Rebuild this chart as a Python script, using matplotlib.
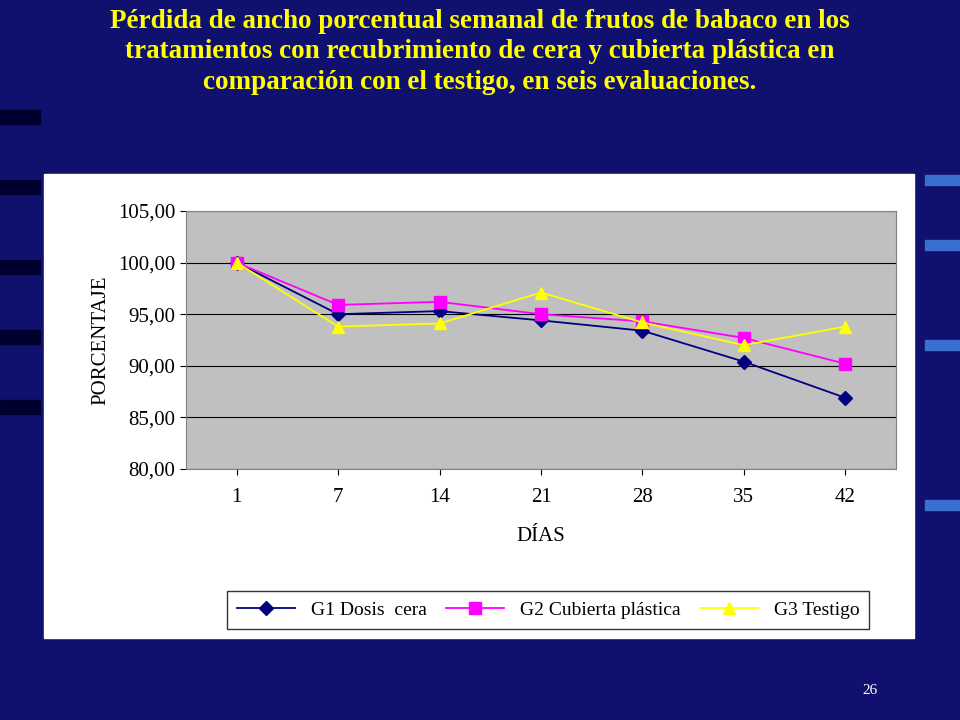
import matplotlib.pyplot as plt
from matplotlib.patches import Rectangle

dias = ["1", "7", "14", "21", "28", "35", "42"]
g1_cera = [100.0, 95.0, 95.3, 94.4, 93.4, 90.4, 86.9]
g2_plastica = [100.0, 95.9, 96.2, 95.0, 94.3, 92.7, 90.2]
g3_testigo = [100.0, 93.8, 94.1, 97.1, 94.2, 92.0, 93.8]
yticks = [80, 85, 90, 95, 100, 105]

W, H = 960, 720
fig = plt.figure(figsize=(9.6, 7.2), dpi=100)
fig.patch.set_facecolor("#10106e")

# dark stripes on the slide background
bg = fig.add_axes([0, 0, 1, 1])
bg.set_xlim(0, W)
bg.set_ylim(H, 0)
bg.axis("off")
bg.add_patch(Rectangle((0, 0), W, H, color="#10106e", zorder=0))
for y0 in [110, 180, 260, 330, 400]:
    bg.add_patch(Rectangle((0, y0), 40, 14, color="#000030", zorder=1))
for y0 in [175, 240, 340, 500]:
    bg.add_patch(Rectangle((925, y0), 35, 10, color="#3a6fd0", zorder=1))

# white chart panel
bg.add_patch(Rectangle((44, 174), 870, 464, color="white", zorder=2))

fig.text(0.5, 0.988,
         "Pérdida de ancho porcentual semanal de frutos de babaco en los\n"
         "tratamientos con recubrimiento de cera y cubierta plástica en\n"
         "comparación con el testigo, en seis evaluaciones.",
         ha="center", va="top", color="#ffff00", fontsize=19.5,
         fontweight="bold", family="Liberation Serif", linespacing=1.3)
fig.text(870 / W, 1 - 690 / H, "26", color="white", fontsize=11,
         ha="center", va="center", family="Liberation Serif")

ax = fig.add_axes([186 / W, 1 - 469 / H, 710 / W, 258 / H])
ax.set_facecolor("#c0c0c0")
x = range(len(dias))
ax.plot(x, g1_cera, color="#000080", marker="D", markersize=7,
        lw=1.3, label="G1 Dosis  cera", zorder=3)
ax.plot(x, g2_plastica, color="#ff00ff", marker="s", markersize=8,
        lw=1.3, label="G2 Cubierta plástica", zorder=3)
ax.plot(x, g3_testigo, color="#ffff00", marker="^", markersize=9,
        lw=1.3, label="G3 Testigo", zorder=3)
ax.set_xlim(-0.5, len(dias) - 0.5)
ax.set_ylim(80, 105)
ax.set_yticks(yticks)
ax.set_yticklabels([f"{v:.2f}".replace(".", ",") for v in yticks])
ax.set_xticks(list(x))
ax.set_xticklabels(dias)
ax.grid(axis="y", color="black", lw=0.8)
ax.set_axisbelow(True)
for s in ax.spines.values():
    s.set_color("#808080")
ax.tick_params(labelsize=15, length=4)
ax.tick_params(axis="x", pad=10)
for lab in ax.get_xticklabels() + ax.get_yticklabels():
    lab.set_family("Liberation Serif")
ax.set_xlabel("DÍAS", fontsize=15, family="Liberation Serif", labelpad=14)
ax.set_ylabel("PORCENTAJE", fontsize=15, family="Liberation Serif", labelpad=6)

leg = fig.legend(loc="center", bbox_to_anchor=(548 / W, 1 - 610 / H),
                 ncol=3, frameon=True, fancybox=False, edgecolor="black",
                 prop={"family": "Liberation Serif", "size": 14},
                 handlelength=3, columnspacing=1.0, borderpad=0.5)

fig.savefig("out.png", dpi=100, facecolor=fig.get_facecolor())
